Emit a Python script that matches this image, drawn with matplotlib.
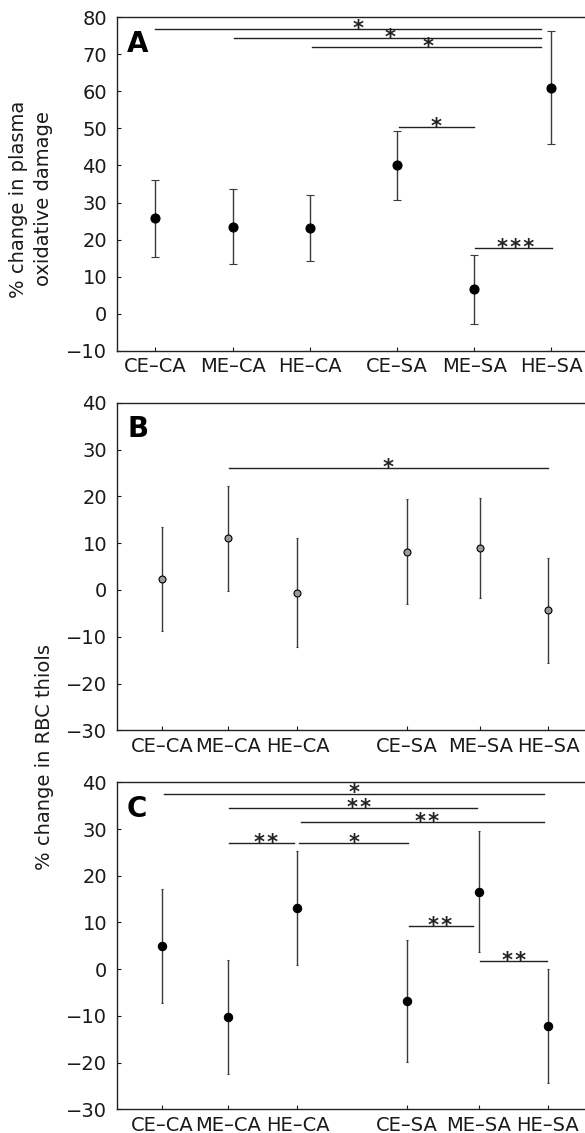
import matplotlib
matplotlib.use('Agg')
import matplotlib.pyplot as plt

plt.rcParams['font.family'] = ['DejaVu Sans']

groups = ['CE–CA', 'ME–CA', 'HE–CA', 'CE–SA', 'ME–SA', 'HE–SA']

# A: % change in plasma oxidative damage
xa = [1, 2, 3, 4.13, 5.13, 6.13]
mean_a = [25.8, 23.5, 23.1, 40.0, 6.6, 61.0]
err_a = [10.4, 10.2, 8.9, 9.3, 9.3, 15.3]
# significance bars: x from, x to, height, star x, label
sig_a = [(1.0, 5.99, 76.8, 3.62, '*'), (2.02, 5.99, 74.3, 4.04, '*'),
         (3.03, 5.99, 71.9, 4.53, '*'), (4.15, 5.13, 50.5, 4.64, '*'),
         (5.14, 6.14, 17.6, 5.66, '***')]

# B: % change in RBC thiols
xb = [1.09, 1.94, 2.84, 4.26, 5.21, 6.09]
mean_b = [2.4, 11.0, -0.6, 8.2, 9.0, -4.4]
err_b = [11.1, 11.2, 11.6, 11.2, 10.7, 11.2]
sig_b = [(1.95, 6.08, 26.1, 4.01, '*')]

# C
xc = [1.09, 1.94, 2.84, 4.26, 5.19, 6.08]
mean_c = [4.9, -10.3, 13.0, -6.8, 16.6, -12.1]
err_c = [12.2, 12.2, 12.2, 13.0, 13.0, 12.2]
sig_c = [(1.11, 6.04, 37.6, 3.57, '*'), (1.95, 5.17, 34.5, 3.64, '**'),
         (2.88, 6.04, 31.5, 4.52, '**'), (1.95, 2.80, 26.9, 2.43, '**'),
         (2.86, 4.27, 26.9, 3.57, '*'), (4.28, 5.12, 9.3, 4.69, '**'),
         (5.21, 6.07, 1.7, 5.65, '**')]

W, H = 585, 1133
fig = plt.figure(figsize=(W / 100, H / 100), dpi=100)
left = 116.8 / W


def panel(top_px, bot_px, x, m, e, sig, ylim, yticks, letter, mfc, ms, cap):
    ax = fig.add_axes([left, 1 - bot_px / H, 1 - left, (bot_px - top_px) / H])
    ax.errorbar(x, m, yerr=e, fmt='o', color='#2a2a2a', ecolor='#3a3a3a',
                mfc=mfc, mec='black', ms=ms, mew=0.8, capsize=cap,
                elinewidth=1.0, capthick=1.0)
    for x0, x1, y, xs, s in sig:
        ax.plot([x0, x1], [y, y], color='#222222', lw=1.0)
        ax.annotate('\u200a'.join(s), xy=(xs, y), xytext=(0, -4.3),
                    textcoords='offset points', ha='center', va='baseline',
                    fontsize=15, fontweight='bold', color='#222222')
    ax.set_xlim(0.5, 6.565)
    ax.set_ylim(*ylim)
    ax.set_yticks(yticks)
    ax.set_yticklabels([str(t).replace('-', '\u2212') for t in yticks])
    ax.set_xticks(x)
    ax.set_xticklabels(groups)
    ax.tick_params(axis='x', direction='in', length=3, pad=4.5, labelsize=14,
                   colors='#1a1a1a')
    ax.tick_params(axis='y', direction='in', length=3, pad=7, labelsize=14,
                   colors='#1a1a1a')
    ax.spines['right'].set_visible(False)
    for sp in ['left', 'bottom', 'top']:
        ax.spines[sp].set_linewidth(1.0)
        ax.spines[sp].set_color('#222222')
    ax.text(0.022, 0.895, letter, transform=ax.transAxes, fontsize=20,
            fontweight='bold', va='baseline', ha='left')
    return ax


panel(17.3, 350.7, xa, mean_a, err_a, sig_a, (-10, 80), list(range(-10, 81, 10)),
      'A', 'black', 6.5, 2.7)
panel(402.7, 730.3, xb, mean_b, err_b, sig_b, (-30, 40), list(range(-30, 41, 10)),
      'B', '#9a9a9a', 5.0, 1.0)
panel(782.3, 1109.3, xc, mean_c, err_c, sig_c, (-30, 40), list(range(-30, 41, 10)),
      'C', 'black', 6.0, 1.0)

fig.text(31 / W, 1 - 199 / H, '% change in plasma\noxidative damage', rotation=90,
         ha='center', va='center', fontsize=14, color='#1a1a1a', linespacing=1.35)
fig.text(45 / W, 1 - 757 / H, '% change in RBC thiols', rotation=90,
         ha='center', va='center', fontsize=14, color='#1a1a1a')

fig.savefig('out.png', dpi=100)
